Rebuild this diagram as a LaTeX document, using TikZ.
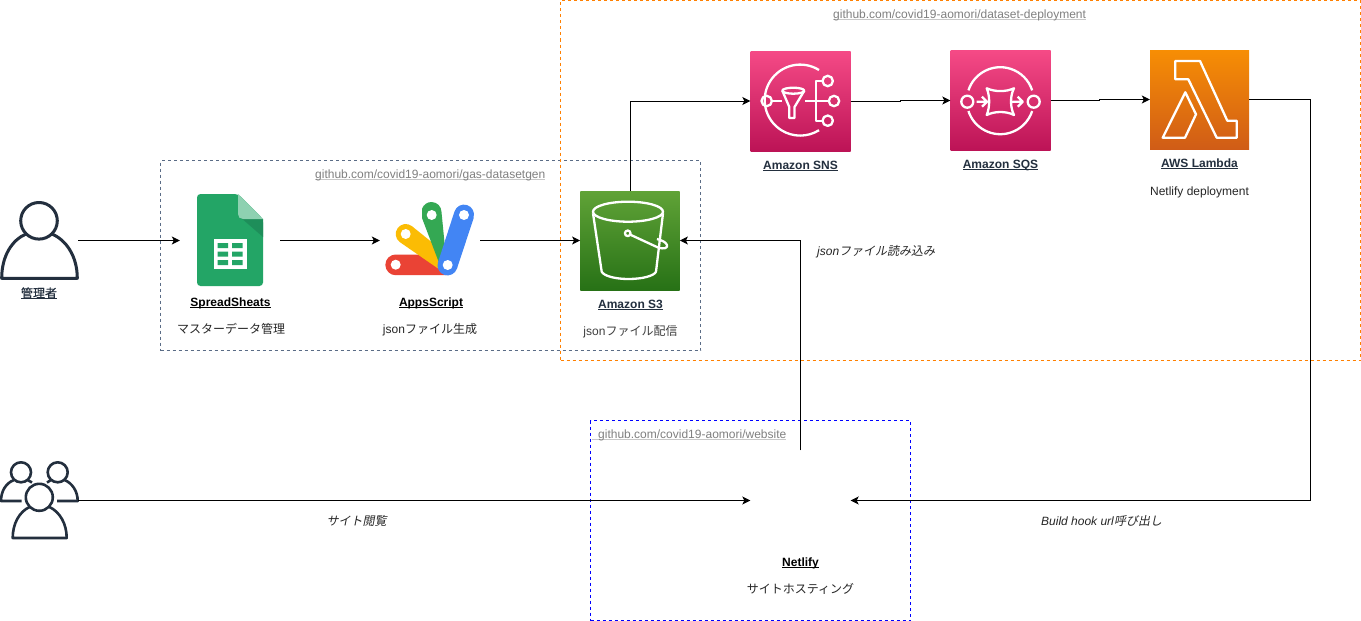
\documentclass[tikz,border=0pt]{standalone}
\usepackage{fontspec}
\setmainfont{Liberation Sans}
\newfontfamily\cjk{Noto Sans CJK JP}
\newfontfamily\cjkm[FakeBold=0.4]{Noto Sans CJK JP}
\newfontfamily\cjki[FakeSlant=0.2]{Noto Sans CJK JP}
\usetikzlibrary{arrows.meta,calc}
\definecolor{awsdark}{HTML}{232F3E}
\definecolor{slatebox}{HTML}{5A6C86}
\definecolor{orangebox}{HTML}{FF8000}
\definecolor{linkgray}{HTML}{808080}
\definecolor{linkline}{HTML}{C8C8C8}
\definecolor{pinktop}{HTML}{F54A86}
\definecolor{pinkbot}{HTML}{BC1356}
\definecolor{greentop}{HTML}{60A337}
\definecolor{greenbot}{HTML}{277116}
\definecolor{ambertop}{HTML}{F78E04}
\definecolor{amberbot}{HTML}{D05C17}
\definecolor{sheetgreen}{HTML}{23A566}
\definecolor{sheetshade}{HTML}{1E8E5A}
\definecolor{sheetfold}{HTML}{8ED1B1}
\definecolor{gasred}{HTML}{EA4335}
\definecolor{gasyellow}{HTML}{FBBC04}
\definecolor{gasgreen}{HTML}{34A853}
\definecolor{gasblue}{HTML}{4285F4}
\newsavebox{\ulbox}
\newcommand{\ulinetxt}[1]{\sbox{\ulbox}{#1}\leavevmode\rlap{\rule[-1.6pt]{\wd\ulbox}{0.8pt}}\usebox{\ulbox}}
\newcommand{\linklabel}[1]{\sbox{\ulbox}{\textcolor{linkgray}{#1}}\leavevmode\rlap{\textcolor{linkline}{\rule[-1.6pt]{\wd\ulbox}{0.8pt}}}\usebox{\ulbox}}
\tikzset{
  txt/.style={inner sep=0pt,anchor=base,font=\fontsize{12}{14}\selectfont,text=black},
  group/.style={dashed,dash pattern=on 3pt off 3pt,line width=0.9pt},
  icon/.style={minimum width=100pt,minimum height=100pt,inner sep=0pt,draw=none},
  flow/.style={line width=1pt,draw=black,-{Stealth[length=8pt,width=8pt,inset=2pt]}},
  glyph/.style={draw=white,line width=2.3pt,fill=none,line join=round},
  person/.style={draw=awsdark,line width=3pt,fill=none,line join=round},
  personsmall/.style={person,line width=2.6pt},
  pink/.style={icon,top color=pinktop,bottom color=pinkbot},
}
\begin{document}
\begin{tikzpicture}[x=1pt,y=1pt,yscale=-1]
\useasboundingbox (0,0) rectangle (1361,621);
\fill[white] (0,0) rectangle (1361,621);

% groups
\node[draw=slatebox,group,minimum width=540pt,minimum height=190pt,inner sep=0pt] (gasbox) at (430.5,255.5) {};
\node[draw=orangebox,group,minimum width=800pt,minimum height=360pt,inner sep=0pt] (deploybox) at (960.5,180.5) {};
\node[draw=blue,group,minimum width=320pt,minimum height=200pt,inner sep=0pt] (sitebox) at (750.5,520.5) {};

% icon anchors
\node[icon,minimum width=78pt,minimum height=78pt] (admin) at (39,240.5) {};
\node[icon] (sheets) at (230,240.5) {};
\node[icon] (apps) at (430,240.5) {};
\node[icon,minimum width=99.4pt,minimum height=99pt,top color=greentop,bottom color=greenbot] (s3) at (630,240.5) {};
\node[pink] (sns) at (800.5,101) {};
\node[pink] (sqs) at (1000.5,100.5) {};
\node[icon,minimum width=99pt,minimum height=99pt,top color=ambertop,bottom color=amberbot] (lambda) at (1199.5,99.5) {};
\node[icon,minimum width=78pt,minimum height=78pt] (users) at (39,500.5) {};
\node[icon] (netlify) at (800.5,500.5) {};
\coordinate (hook) at (1310.5,500.5);

% admin
\draw[person] (39,220.8) circle[radius=18.3pt];
\draw[person] (26,234) .. controls (12,240) and (1.7,256) .. (1.7,278.3) -- (77.3,278.3) .. controls (77.3,256) and (66,240) .. (52,234);

% users
\draw[personsmall] (21,472.3) circle[radius=10pt];
\draw[personsmall] (57.7,472.3) circle[radius=10pt];
\draw[personsmall] (39.3,497.3) circle[radius=13.5pt];
\draw[personsmall] (21.7,501) -- (1,501) .. controls (1,491) and (6,483) .. (14,480) (27.5,480) -- (32,482.5);
\draw[personsmall] (57,501) -- (77.7,501) .. controls (77.7,491) and (72,483) .. (64.5,480) (51,480) -- (47,482.5);
\draw[personsmall] (29.5,507) .. controls (19,512) and (12.7,524) .. (12.7,538) -- (66.7,538) .. controls (66.7,524) and (60,512) .. (49.5,507);

% sheets
\fill[rounded corners=3.5pt,fill=sheetgreen] (197,194) -- (238,194) -- (263,219) -- (263,286) -- (197,286) -- cycle;
\fill[fill=sheetshade] (240,217) -- (263,219) -- (263,237) -- cycle;
\fill[fill=sheetfold] (238,194) -- (263,219) -- (243,219) .. controls (240,219) and (238,217) .. (238,214) -- cycle;
\fill[white] (213.5,239) rectangle (247,269);
\fill[fill=sheetgreen] (217.5,243) rectangle (228,248) (232,243) rectangle (242.5,248)
  (217.5,251.5) rectangle (228,256.5) (232,251.5) rectangle (242.5,256.5)
  (217.5,260) rectangle (228,265) (232,260) rectangle (242.5,265);

% apps script
\fill[fill=gasred] (395.7,254.5) -- (425,254.5) -- (447,275.2) -- (395.7,275.2) arc[start angle=90,end angle=270,radius=10.35pt] -- cycle;
\fill[fill=gasyellow] (411.7,226) -- (444,252) -- (446,274) -- (399.7,242) arc[start angle=127,end angle=307,radius=10pt] -- cycle;
\fill[fill=gasgreen] (422,218) -- (441,268) -- (447,268) -- (441.5,212) arc[start angle=0,end angle=-160,radius=10pt] -- cycle;
\fill[fill=gasblue] (473.5,218.5) -- (457,268.5) arc[start angle=18,end angle=198,radius=10pt] -- (454.5,211.5) arc[start angle=198,end angle=378,radius=10pt] -- cycle;
\fill[white] (395.7,264.7) circle[radius=5pt] (405.7,234) circle[radius=5pt] (431.7,215) circle[radius=5pt] (464,215) circle[radius=5pt] (447.7,265) circle[radius=5pt];

% s3 bucket
\draw[glyph] (628,211.7) ellipse[x radius=35pt,y radius=10pt];
\draw[glyph] (593,213.3) -- (601.7,271.7) .. controls (604,276) and (615,279) .. (628.5,279) .. controls (642,279) and (654,276) .. (656,271.7) -- (663,213.3);
\draw[glyph] (627.7,233.3) circle[radius=2.8pt];
\draw[glyph] (630.5,234.8) -- (658,247.5) .. controls (664,249.5) and (668,248) .. (667,245) .. controls (666,242) and (661,240) .. (657,239);

% sns
\draw[glyph] (819,70) arc[start angle=-58,end angle=-302,radius=35.5pt];
\draw[glyph] (766.7,101) circle[radius=5.2pt] (827.7,81) circle[radius=5.2pt] (834,101) circle[radius=5.2pt] (827.7,120.7) circle[radius=5.2pt];
\draw[glyph] (772,101) -- (781.7,101);
\draw[glyph] (793.3,90.7) ellipse[x radius=11pt,y radius=3pt];
\draw[glyph] (782.3,90.7) -- (789.3,107) -- (789.3,118) -- (794.5,118) -- (794.5,107) -- (804.3,90.7);
\draw[glyph] (805,101) -- (828.5,101) (822.5,81) -- (815.7,81) -- (815.7,120.7) -- (822.5,120.7);

% sqs
\draw[glyph] (1000.3,100.7) ++(-162:33.5) arc[start angle=-162,end angle=-18,radius=33.5pt];
\draw[glyph] (1000.3,100.7) ++(162:33.5) arc[start angle=162,end angle=18,radius=33.5pt];
\draw[glyph] (967.3,101.7) circle[radius=6pt] (1033.7,101.7) circle[radius=6pt];
\draw[glyph] (986.7,88.3) .. controls (995,92) and (1006,92) .. (1014,88.3) .. controls (1010,96) and (1010,107) .. (1014,115) .. controls (1006,111) and (995,111) .. (986.7,115) .. controls (990,107) and (990,96) .. (986.7,88.3) -- cycle;
\draw[glyph] (976.7,101.7) -- (987,101.7) (982,96.7) -- (987,101.7) -- (982,106.7);
\draw[glyph] (1012,101.7) -- (1022.7,101.7) (1017.7,96.7) -- (1022.7,101.7) -- (1017.7,106.7);

% lambda
\draw[glyph] (1175.3,61) -- (1200,61) -- (1227.3,120.7) -- (1236.7,120.7) -- (1236.7,137.7) -- (1216.7,137.7) -- (1188.3,79.3) -- (1175.3,79.3) -- cycle;
\draw[glyph] (1185.3,92.3) -- (1196,114.3) -- (1185,137.7) -- (1162.7,137.7) -- cycle;

% connectors
\draw[flow] (admin.east) -- (sheets.west);
\draw[flow] (sheets.east) -- (apps.west);
\draw[flow] (apps.east) -- (s3.west);
\draw[flow] (s3.north) |- (sns.west);
\draw[flow] (sns.east) -| ([xshift=-50pt]sqs.west) -- (sqs.west);
\draw[flow] (sqs.east) -| ([xshift=-50pt]lambda.west) -- (lambda.west);
\draw[flow] (lambda.east) -| (hook) -- (netlify.east);
\draw[flow] (netlify.north) |- (s3.east);
\draw[flow] (users.east) -- (netlify.west);

% texts
\node[txt,anchor=base west] (gaslabel) at (315,178.5) {\linklabel{github.com/covid19-aomori/gas-datasetgen}};
\node[txt,anchor=base west] (deploylabel) at (833,18.5) {\linklabel{github.com/covid19-aomori/dataset-deployment}};
\node[txt,anchor=base west] (sitelabel) at (592,438.5) {\linklabel{\kern6pt github.com/covid19-aomori/website}};

\node[txt,text=awsdark] (admintext) at (39,297.5) {\ulinetxt{\cjkm 管理者}};
\node[txt] (sheetname) at (230.5,306.5) {\ulinetxt{\textbf{SpreadSheats}}};
\node[txt,text=black!85] (sheetnote) at (231,333.5) {\cjk マスターデータ管理};
\node[txt] (appsname) at (431,306.5) {\ulinetxt{\textbf{AppsScript}}};
\node[txt,text=black!85] (appsnote) at (430,333.5) {json{\cjk ファイル生成}};
\node[txt,text=awsdark] (s3name) at (630.5,308.5) {\ulinetxt{\textbf{Amazon S3}}};
\node[txt,text=black!75] (s3note) at (630.5,335.5) {json{\cjk ファイル配信}};
\node[txt,text=awsdark] (snsname) at (800.5,169.5) {\ulinetxt{\textbf{Amazon SNS}}};
\node[txt,text=awsdark] (sqsname) at (1000.5,168.5) {\ulinetxt{\textbf{Amazon SQS}}};
\node[txt,text=awsdark] (lambdaname) at (1199.5,167.5) {\ulinetxt{\textbf{AWS Lambda}}};
\node[txt,text=black!85] (lambdanote) at (1199.5,195) {Netlify deployment};
\node[txt,text=black!85,anchor=base west] (readnote) at (817,255.5) {\textit{json}{\cjki ファイル読み込み}};
\node[txt,text=black!85] (viewnote) at (356.5,525) {\cjki サイト閲覧};
\node[txt,text=black!85,anchor=base west] (hooknote) at (1041,525.5) {\textit{Build hook url}{\cjki 呼び出し}};
\node[txt] (netlifyname) at (800.5,566.5) {\ulinetxt{\textbf{Netlify}}};
\node[txt,text=black!85] (netlifynote) at (800.5,593.5) {\cjk サイトホスティング};
\end{tikzpicture}
\end{document}
